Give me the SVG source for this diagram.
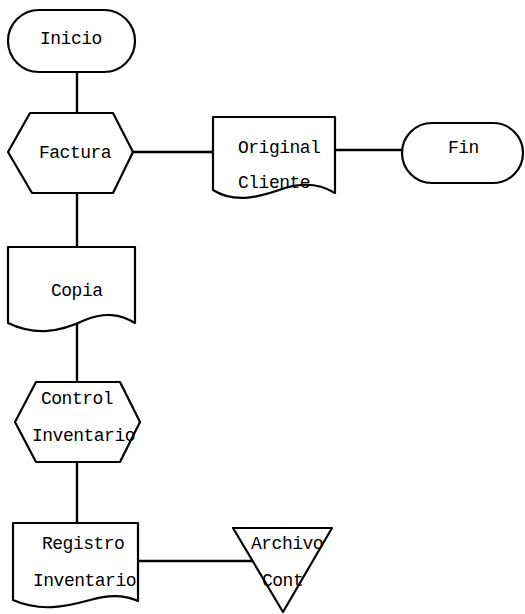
<svg xmlns="http://www.w3.org/2000/svg" width="525" height="614" viewBox="0 0 525 614">
<style>
.s{fill:#fff;stroke:#000;stroke-width:2.2;stroke-linejoin:round}
.c line{stroke:#000;stroke-width:2.4}
text{font-family:"Liberation Mono","Courier New",monospace;font-size:18px;letter-spacing:-0.5px;fill:#000}
</style>
<rect width="525" height="614" fill="#fff"/>
<g class="c" id="connectors">
<line x1="77" y1="72" x2="77" y2="113"/>
<line x1="133" y1="152" x2="213" y2="152"/>
<line x1="335" y1="150" x2="402" y2="150"/>
<line x1="77" y1="193" x2="77" y2="247"/>
<line x1="77" y1="322" x2="77" y2="382"/>
<line x1="77" y1="462" x2="77" y2="523"/>
<line x1="138" y1="561" x2="252" y2="561"/>
</g>
<g id="inicio">
<rect class="s" x="8" y="10" width="127" height="62" rx="31"/>
<text x="40" y="44">Inicio</text>
</g>
<g id="factura">
<polygon class="s" points="30,113 113,113 133,152 113,193 32,193 8,152"/>
<text x="39" y="158">Factura</text>
</g>
<g id="original">
<path class="s" d="M213,117 H335 V193 C322,185 305,182 285,188 C260,197 235,204 213,190 Z"/>
<text x="238" y="153">Original</text>
<text x="238" y="188">Cliente</text>
</g>
<g id="fin">
<rect class="s" x="402" y="123" width="121" height="60" rx="30"/>
<text x="448" y="153">Fin</text>
</g>
<g id="copia">
<path class="s" d="M8,247 H135 V323 C120,314 105,312 85,320 C60,332 35,336 8,323 Z"/>
<text x="51" y="296">Copia</text>
</g>
<g id="control">
<polygon class="s" points="36,382 120,382 140,422 120,462 36,462 15,422"/>
<text x="41" y="404">Control</text>
<text x="32" y="441">Inventario</text>
</g>
<g id="registro">
<path class="s" d="M13,523 H138 V601 C125,595 110,594 90,600 C65,607 40,612 13,600 Z"/>
<text x="42" y="549">Registro</text>
<text x="33" y="586">Inventario</text>
</g>
<g id="archivo">
<polygon class="s" points="233,528 332,528 283,612"/>
<text x="251" y="549">Archivo</text>
<text x="262" y="586">Cont</text>
</g>
</svg>
